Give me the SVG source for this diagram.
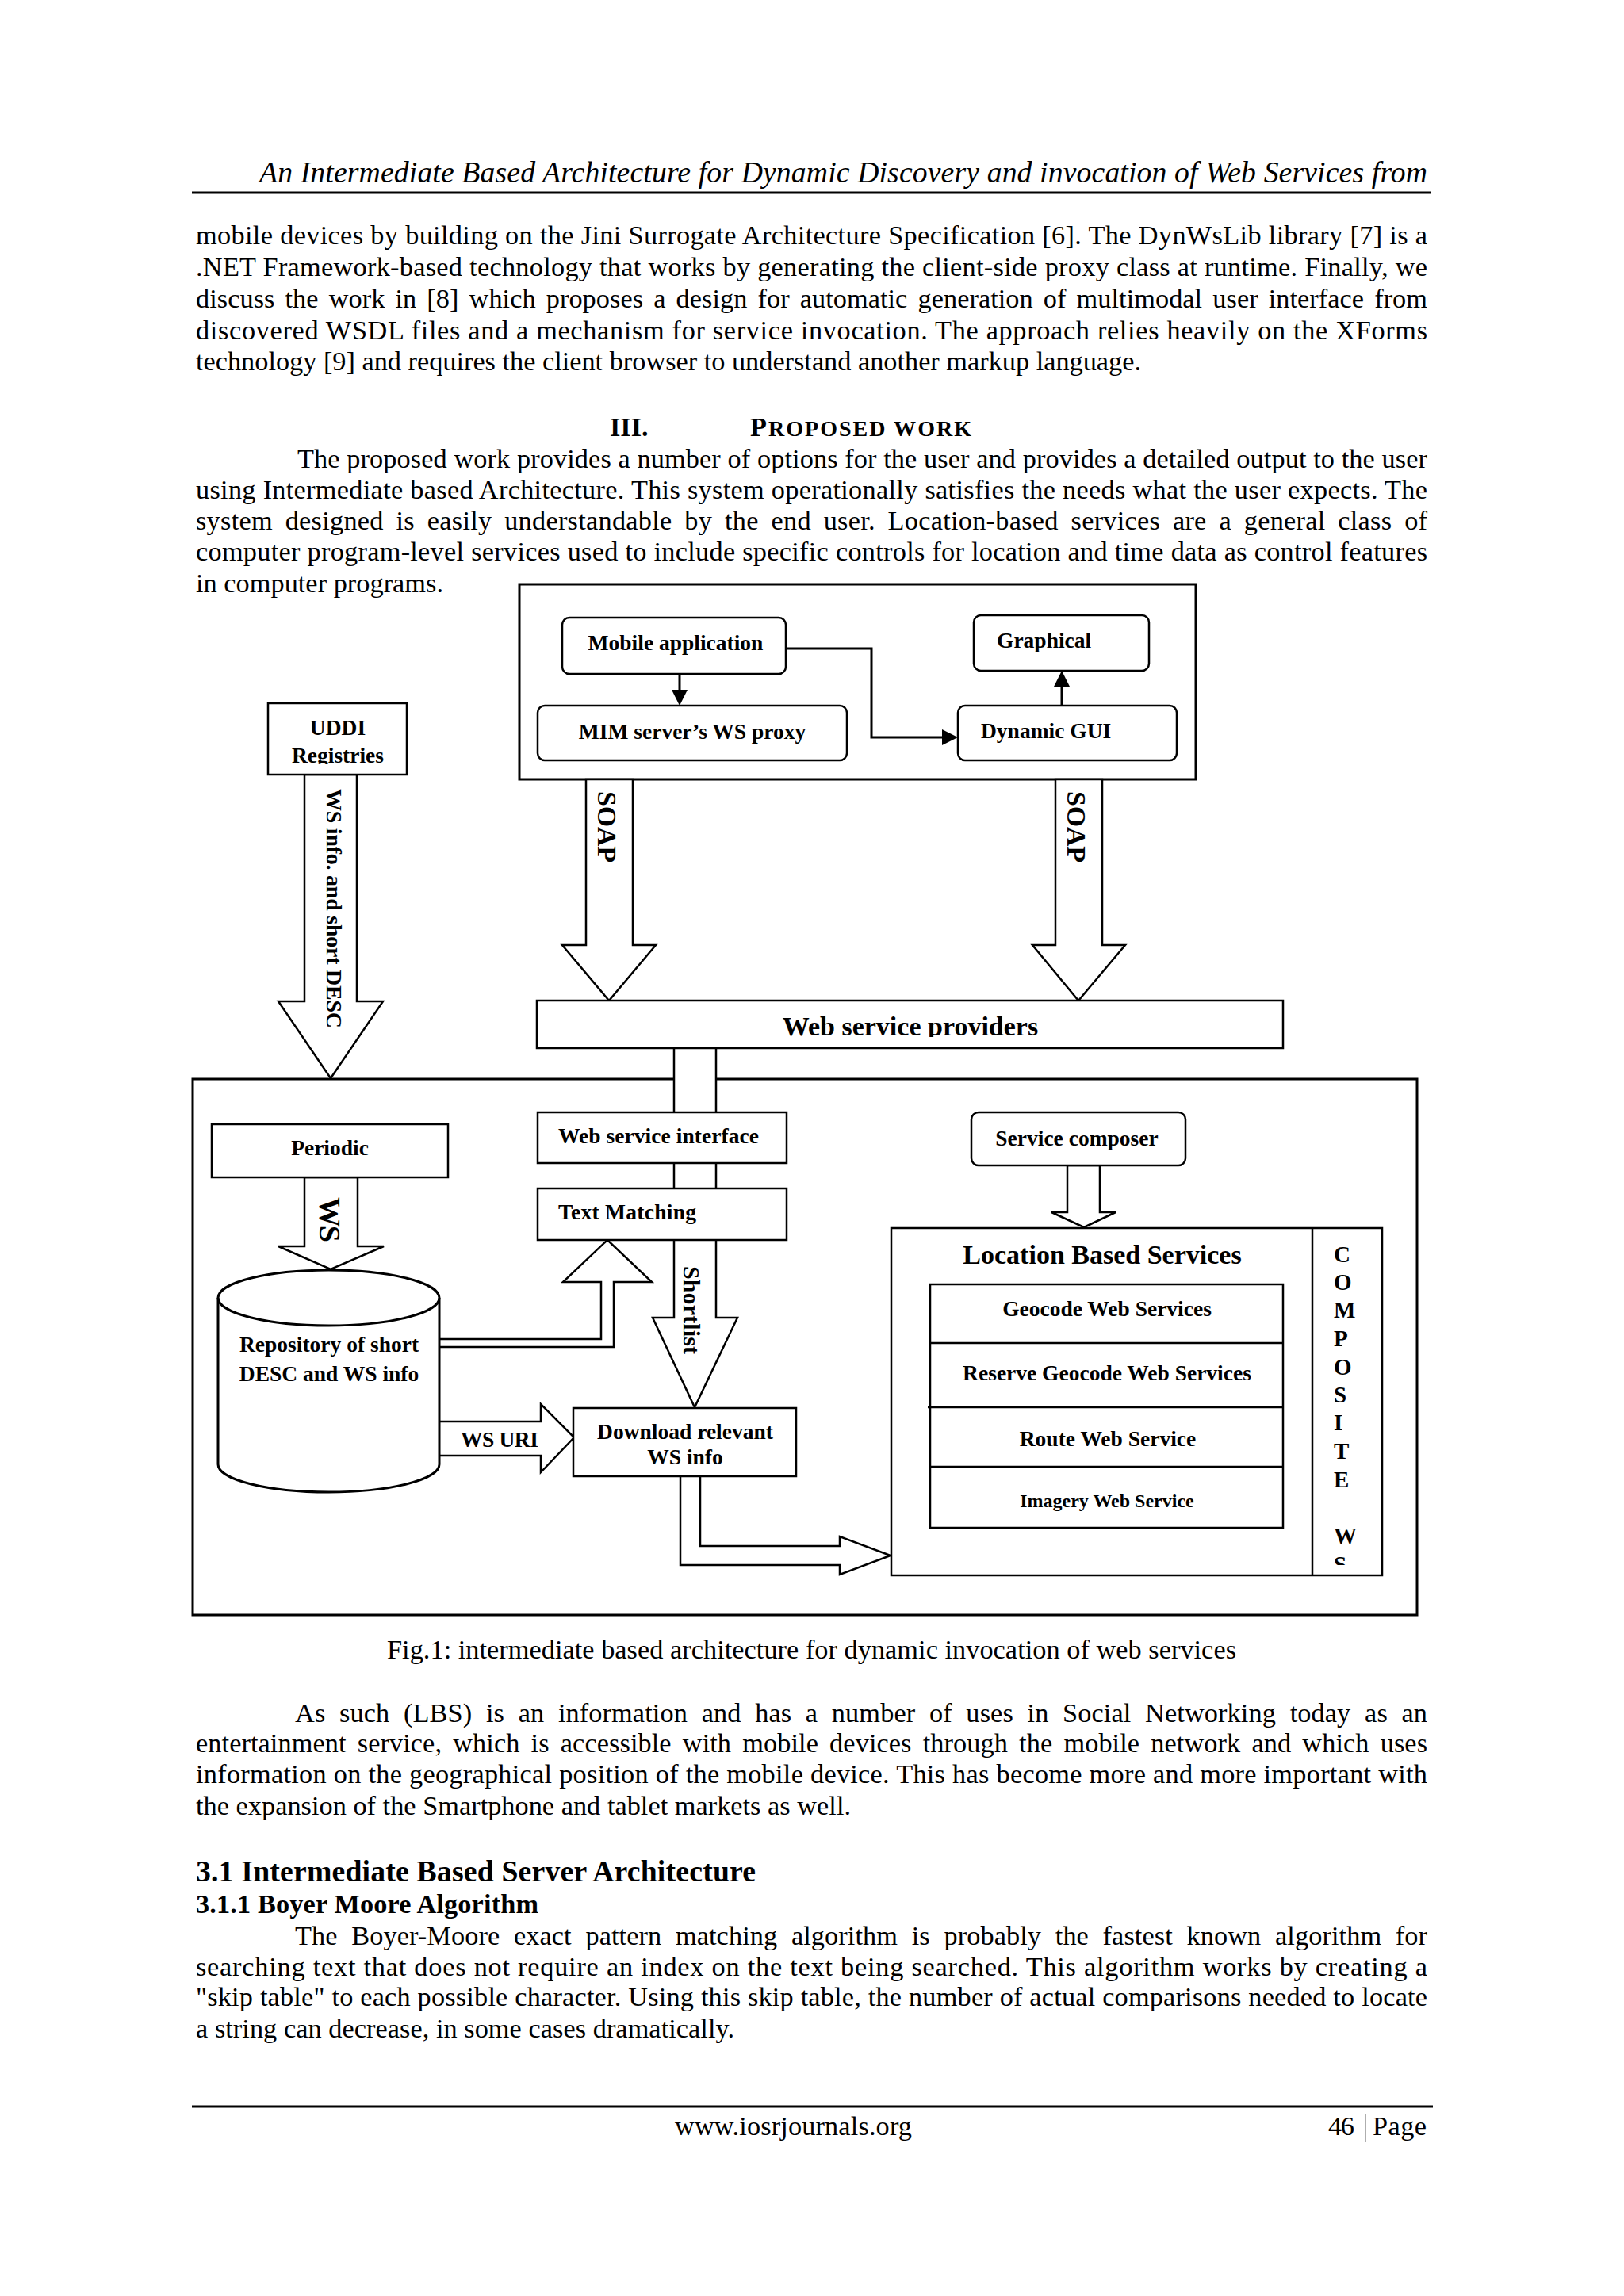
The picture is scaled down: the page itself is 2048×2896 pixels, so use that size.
<svg xmlns="http://www.w3.org/2000/svg" width="2048" height="2896" viewBox="0 0 2048 2896">
<style>
.t{font-family:"Liberation Serif","Times New Roman",serif;font-size:34.3px;fill:#000}
.i{font-style:italic}
.b{font-weight:bold}
.n{font-family:"Liberation Serif","Times New Roman",serif;font-weight:bold;font-size:27.5px;fill:#000}
.box{fill:#fff;stroke:#000;stroke-width:2.5}
.cont{fill:none;stroke:#000;stroke-width:3}
.blk{fill:#fff;stroke:#000;stroke-width:2.5;stroke-linejoin:miter}
.ln{fill:none;stroke:#000;stroke-width:3}
.rule{stroke:#000;stroke-width:3}
</style>
<defs>
<marker id="ah" viewBox="0 0 20 20" refX="0" refY="10" markerWidth="20" markerHeight="20" markerUnits="userSpaceOnUse" orient="auto"><path d="M0,0 L20,10 L0,20 z" fill="#000"/></marker>
<clipPath id="cUddi"><rect x="338" y="887" width="175" height="77"/></clipPath>
<clipPath id="cWsp"><rect x="677" y="1262" width="941" height="46"/></clipPath>
<clipPath id="cDl"><rect x="723" y="1776" width="281" height="73"/></clipPath>
<clipPath id="cComp"><rect x="1655" y="1549" width="88" height="425"/></clipPath>
</defs>
<rect width="2048" height="2896" fill="#fff"/>

<g id="page-text">
<text class="t i" x="327" y="230" style="font-size:37.7px" textLength="1473">An Intermediate Based Architecture for Dynamic Discovery and invocation of Web Services from</text>
<line class="rule" x1="242" y1="243" x2="1805" y2="243"/>
<text class="t" x="247" y="308" textLength="1553">mobile devices by building on the Jini Surrogate Architecture Specification [6]. The DynWsLib library [7] is a</text>
<text class="t" x="247" y="348" textLength="1553">.NET Framework-based technology that works by generating the client-side proxy class at runtime. Finally, we</text>
<text class="t" x="247" y="388" word-spacing="4.5" textLength="1553">discuss the work in [8] which proposes a design for automatic generation of multimodal user interface from</text>
<text class="t" x="247" y="428" textLength="1553">discovered WSDL files and a mechanism for service invocation. The approach relies heavily on the XForms</text>
<text class="t" x="247" y="467" textLength="1192">technology [9] and requires the client browser to understand another markup language.</text>
<text class="t b" x="769" y="550" style="font-size:34.3px">III.</text>
<text class="t b" x="946" y="550" textLength="279">P<tspan style="font-size:28px">ROPOSED WORK</tspan></text>
<text class="t" x="375" y="590" textLength="1425">The proposed work provides a number of options for the user and provides a detailed output to the user</text>
<text class="t" x="247" y="629" textLength="1553">using Intermediate based Architecture. This system operationally satisfies the needs what the user expects. The</text>
<text class="t" x="247" y="668" word-spacing="7" textLength="1553">system designed is easily understandable by the end user. Location-based services are a general class of</text>
<text class="t" x="247" y="707" textLength="1553">computer program-level services used to include specific controls for location and time data as control features</text>
<text class="t" x="247" y="747" textLength="312">in computer programs.</text>
<text class="t" x="488" y="2092" textLength="1071">Fig.1: intermediate based architecture for dynamic invocation of web services</text>
<text class="t" x="372" y="2172" word-spacing="9" textLength="1428">As such (LBS) is an information and has a number of uses in Social Networking today as an</text>
<text class="t" x="247" y="2210" word-spacing="5.5" textLength="1553">entertainment service, which is accessible with mobile devices through the mobile network and which uses</text>
<text class="t" x="247" y="2249" textLength="1553">information on the geographical position of the mobile device. This has become more and more important with</text>
<text class="t" x="247" y="2289" textLength="826">the expansion of the Smartphone and tablet markets as well.</text>
<text class="t b" x="247" y="2373" style="font-size:37.7px" textLength="706">3.1 Intermediate Based Server Architecture</text>
<text class="t b" x="247" y="2413" textLength="432">3.1.1 Boyer Moore Algorithm</text>
<text class="t" x="372" y="2453" word-spacing="9" textLength="1428">The Boyer-Moore exact pattern matching algorithm is probably the fastest known algorithm for</text>
<text class="t" x="247" y="2492" textLength="1553">searching text that does not require an index on the text being searched. This algorithm works by creating a</text>
<text class="t" x="247" y="2530" textLength="1553">"skip table" to each possible character. Using this skip table, the number of actual comparisons needed to locate</text>
<text class="t" x="247" y="2570" textLength="679">a string can decrease, in some cases dramatically.</text>
<line class="rule" x1="242" y1="2657" x2="1807" y2="2657"/>
<text class="t" x="851" y="2693" textLength="299">www.iosrjournals.org</text>
<text class="t" x="1675" y="2693" textLength="33">46</text>
<line x1="1722" y1="2666" x2="1722" y2="2702" stroke="#777" stroke-width="1.2"/>
<text class="t" x="1731" y="2693" textLength="68">Page</text>
</g>

<g id="containers">
<rect id="mobile-client" class="cont" x="655" y="737" width="853" height="246"/>
<rect id="intermediate-server" class="cont" x="243" y="1361" width="1544" height="676"/>
</g>

<g id="connectors">
<line class="ln" x1="857" y1="850" x2="857" y2="870" marker-end="url(#ah)"/>
<path class="ln" d="M991,818 H1099 V930 H1188" marker-end="url(#ah)"/>
<line class="ln" x1="1339" y1="890" x2="1339" y2="866" marker-end="url(#ah)"/>
<polygon class="blk" points="384,977 450,977 450,1263 483,1263 417,1360 351,1263 384,1263"/>
<text class="n" transform="translate(412,995) rotate(90)" style="font-size:28px" textLength="302">WS info. and short DESC</text>
<polygon class="blk" points="739,983 798,983 798,1192 827,1192 768,1262 709,1192 739,1192"/>
<text class="n" transform="translate(754,998) rotate(90)" style="font-size:34px" textLength="90">SOAP</text>
<polygon class="blk" points="1331,983 1390,983 1390,1192 1419,1192 1360,1262 1302,1192 1331,1192"/>
<text class="n" transform="translate(1346,998) rotate(90)" style="font-size:34px" textLength="90">SOAP</text>
<path class="blk" d="M850,1322 V1662 H823 L876,1775 L930,1662 H903 V1322"/>
<text class="n" transform="translate(862,1597) rotate(90)" style="font-size:30px" textLength="111">Shortlist</text>
<polygon class="blk" points="384,1485 451,1485 451,1572 484,1572 417,1601 351,1572 384,1572"/>
<text class="n" transform="translate(403,1510) rotate(90)" style="font-size:38px" textLength="57">WS</text>
<path class="blk" d="M554,1689 H758 V1617 H710 L766,1564 L822,1617 H774 V1699 H554"/>
<path class="blk" d="M554,1793 H682 V1771 L724,1813 L682,1857 V1836 H554"/>
<text class="n" x="581" y="1825" textLength="98">WS URI</text>
<path class="blk" d="M858,1862 V1974 H1059 V1986 L1123,1962 L1059,1938 V1950 H883 V1862"/>
<polygon class="blk" points="1346,1470 1387,1470 1387,1529 1407,1529 1367,1548 1326,1529 1346,1529"/>
</g>

<g id="mobile-application">
<rect class="box" x="709" y="779" width="282" height="71" rx="9"/>
<text class="n" x="852" y="820" text-anchor="middle">Mobile application</text>
</g>
<g id="mim-proxy">
<rect class="box" x="678" y="890" width="390" height="69" rx="9"/>
<text class="n" x="873" y="932" text-anchor="middle">MIM server’s WS proxy</text>
</g>
<g id="graphical">
<rect class="box" x="1228" y="776" width="221" height="70" rx="9"/>
<text class="n" x="1257" y="817">Graphical</text>
</g>
<g id="dynamic-gui">
<rect class="box" x="1208" y="890" width="276" height="69" rx="9"/>
<text class="n" x="1237" y="931">Dynamic GUI</text>
</g>
<g id="uddi">
<rect class="box" x="338" y="887" width="175" height="90"/>
<g clip-path="url(#cUddi)">
<text class="n" x="426" y="927" text-anchor="middle">UDDI</text>
<text class="n" x="426" y="962" text-anchor="middle">Registries</text>
</g>
</g>
<g id="ws-providers">
<rect class="box" x="677" y="1262" width="941" height="60"/>
<text class="n" x="1148" y="1306" style="font-size:34px" text-anchor="middle" clip-path="url(#cWsp)">Web service providers</text>
</g>
<g id="periodic">
<rect class="box" x="267" y="1418" width="298" height="67"/>
<text class="n" x="416" y="1457" text-anchor="middle">Periodic</text>
</g>
<g id="ws-interface">
<rect class="box" x="678" y="1403" width="314" height="64"/>
<text class="n" x="704" y="1442" textLength="253">Web service interface</text>
</g>
<g id="text-matching">
<rect class="box" x="678" y="1499" width="314" height="65"/>
<text class="n" x="704" y="1538" textLength="174">Text Matching</text>
</g>
<g id="repository">
<path d="M275,1637 A139.5,35 0 0 1 554,1637 V1847 A139.5,35 0 0 1 275,1847 Z" fill="#fff" stroke="#000" stroke-width="3"/>
<path d="M275,1637 A139.5,35 0 0 0 554,1637" fill="none" stroke="#000" stroke-width="3"/>
<text class="n" x="415" y="1705" text-anchor="middle">Repository of short</text>
<text class="n" x="415" y="1742" text-anchor="middle">DESC and WS info</text>
</g>
<g id="download">
<rect class="box" x="723" y="1776" width="281" height="86"/>
<g clip-path="url(#cDl)">
<text class="n" x="864" y="1815" text-anchor="middle">Download relevant</text>
<text class="n" x="864" y="1847" text-anchor="middle">WS info</text>
</g>
</g>
<g id="service-composer">
<rect class="box" x="1225" y="1403" width="270" height="67" rx="9"/>
<text class="n" x="1358" y="1445" text-anchor="middle">Service composer</text>
</g>
<g id="lbs">
<rect class="box" x="1124" y="1549" width="619" height="438"/>
<line x1="1655" y1="1549" x2="1655" y2="1987" stroke="#000" stroke-width="2.5"/>
<text class="n" x="1390" y="1594" style="font-size:34px" text-anchor="middle">Location Based Services</text>
<rect class="box" x="1173" y="1620" width="445" height="307"/>
<line x1="1173" y1="1694" x2="1618" y2="1694" stroke="#000" stroke-width="2.5"/>
<line x1="1170" y1="1775" x2="1618" y2="1775" stroke="#000" stroke-width="2.5"/>
<line x1="1173" y1="1850" x2="1618" y2="1850" stroke="#000" stroke-width="2.5"/>
<text class="n" x="1396" y="1660" text-anchor="middle">Geocode Web Services</text>
<text class="n" x="1396" y="1741" text-anchor="middle">Reserve Geocode Web Services</text>
<text class="n" x="1397" y="1824" text-anchor="middle">Route Web Service</text>
<text class="n" x="1396" y="1901" style="font-size:24px" text-anchor="middle">Imagery Web Service</text>
<g clip-path="url(#cComp)">
<text class="n" style="font-size:29px">
<tspan x="1682" y="1592">C</tspan><tspan x="1682" y="1627">O</tspan><tspan x="1682" y="1662">M</tspan><tspan x="1682" y="1698">P</tspan><tspan x="1682" y="1734">O</tspan><tspan x="1682" y="1769">S</tspan><tspan x="1682" y="1804">I</tspan><tspan x="1682" y="1840">T</tspan><tspan x="1682" y="1876">E</tspan><tspan x="1682" y="1947">W</tspan><tspan x="1682" y="1983">S</tspan>
</text>
</g>
</g>
</svg>
